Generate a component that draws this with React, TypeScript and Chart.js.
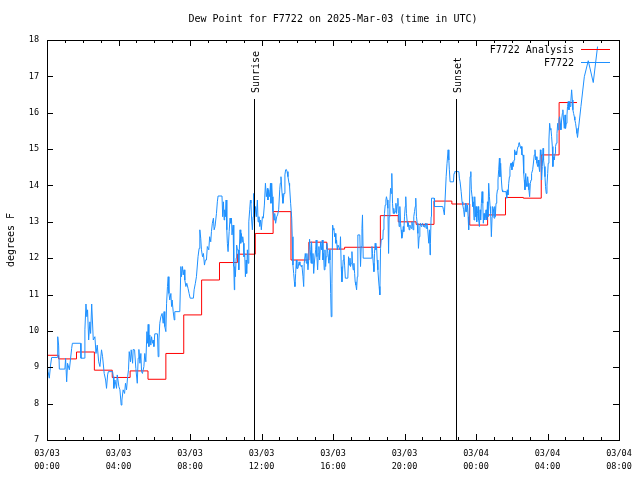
import React, { useEffect, useRef } from "react";
import { Chart, registerables } from "chart.js";

Chart.register(...registerables);

const TITLE = "Dew Point for F7722 on 2025-Mar-03 (time in UTC)";
const Y_TITLE = "degrees F";
const ANALYSIS_LABEL = "F7722 Analysis";
const OBS_LABEL = "F7722";
const SUNRISE_LABEL = "Sunrise";
const SUNSET_LABEL = "Sunset";

// x axis: hours since 03/03 00:00 UTC
const X_MIN = 0;
const X_MAX = 32;
const X_TICK_DATES = ["03/03", "03/03", "03/03", "03/03", "03/03", "03/03", "03/04", "03/04", "03/04"];
const X_TICK_TIMES = ["00:00", "04:00", "08:00", "12:00", "16:00", "20:00", "00:00", "04:00", "08:00"];
const Y_MIN = 7;
const Y_MAX = 18;

const SUNRISE_HOUR = 11.58;
const SUNSET_HOUR = 22.9;

// Analysis (red steps): start hour of each step and its value
const ANALYSIS_STARTS = [0, 0.65, 1.65, 2.65, 3.65, 4.65, 5.65, 6.65, 7.65, 8.65, 9.65, 10.65, 11.65, 12.65, 13.65,
  14.65, 15.65, 16.65, 17.65, 18.65, 19.65, 20.65, 21.65, 22.65, 23.65, 24.65, 25.65, 26.65, 27.65, 28.65];
const ANALYSIS_END = 29.65;
const ANALYSIS_VALUES = [9.33, 9.23, 9.42, 8.92, 8.72, 8.9, 8.67, 9.38, 10.44, 11.4, 11.88, 12.11, 12.68, 13.28, 11.95,
  12.44, 12.25, 12.3, 12.3, 13.17, 13.0, 12.93, 13.57, 13.49, 12.91, 13.19, 13.67, 13.65, 14.84, 16.28];

// Observations (blue): [hour, value]
const OBS: [number, number][] = [
  [0, 9.15], [0.06, 8.88], [0.13, 8.7], [0.2, 9.06], [0.26, 9.27], [0.58, 9.27], [0.6, 9.84], [0.65, 9.61], [0.69, 8.95], [1.0, 8.95],
  [1.04, 9.25], [1.1, 8.6], [1.15, 9.11], [1.25, 8.93], [1.38, 9.52], [1.42, 9.66], [1.88, 9.66], [1.9, 9.25], [2.09, 9.25], [2.12, 10.03],
  [2.18, 10.74], [2.23, 10.39], [2.27, 10.58], [2.33, 9.75], [2.4, 10.25], [2.44, 9.93], [2.5, 10.74], [2.59, 9.75], [2.68, 9.84], [2.74, 9.38],
  [2.81, 9.61], [2.89, 9.15], [2.96, 9.02], [3.05, 9.48], [3.11, 9.29], [3.2, 8.83], [3.28, 8.65], [3.33, 8.42], [3.39, 8.79], [3.43, 8.88],
  [3.67, 8.88], [3.71, 8.74], [3.74, 8.42], [3.8, 8.65], [3.89, 8.42], [3.93, 8.79], [4.02, 8.47], [4.08, 8.38], [4.15, 7.96], [4.19, 8.1],
  [4.26, 8.38], [4.34, 8.28], [4.39, 8.56], [4.45, 8.38], [4.51, 8.74], [4.56, 8.93], [4.6, 9.43], [4.67, 9.15], [4.71, 9.48], [4.79, 9.11],
  [4.82, 9.49], [4.9, 9.48], [4.97, 8.97], [5.05, 8.56], [5.1, 9.25], [5.14, 9.49], [5.2, 9.11],
  [5.25, 9.38], [5.29, 8.88], [5.34, 8.83], [5.42, 9.02], [5.47, 9.38], [5.53, 9.15], [5.59, 9.98], [5.62, 9.66], [5.66, 10.18], [5.7, 9.57],
  [5.75, 9.89], [5.81, 9.61], [5.85, 9.84], [5.9, 9.66], [5.94, 9.75], [5.98, 9.57], [6.03, 9.92], [6.18, 9.92], [6.22, 9.29], [6.26, 9.75],
  [6.31, 10.21], [6.37, 10.39], [6.44, 10.48], [6.5, 10.21], [6.55, 10.53], [6.59, 10.12], [6.65, 9.98], [6.69, 10.76], [6.74, 11.22], [6.78, 11.49],
  [6.82, 11.03], [6.87, 10.85], [6.93, 11.03], [6.97, 10.67], [7.0, 10.85], [7.06, 10.53], [7.12, 10.3], [7.15, 10.53], [7.43, 10.53], [7.49, 11.77],
  [7.52, 11.49], [7.58, 11.77], [7.62, 11.54], [7.67, 11.68], [7.71, 11.4], [7.77, 11.22], [7.82, 11.31], [7.89, 11.17], [7.95, 11.03], [8.01, 10.9],
  [8.19, 10.9], [8.23, 11.13], [8.3, 11.31], [8.36, 11.49], [8.45, 12.04], [8.51, 12.27], [8.55, 12.78], [8.6, 12.55], [8.64, 12.23], [8.7, 12.04],
  [8.75, 12.13], [8.81, 11.81], [8.86, 11.95], [8.92, 11.95], [8.97, 12.32], [9.05, 12.23], [9.1, 12.59], [9.16, 12.45], [9.2, 12.73], [9.25, 12.96],
  [9.31, 13.1], [9.35, 12.78], [9.4, 12.87], [9.48, 13.23], [9.53, 13.55], [9.57, 13.71], [9.79, 13.71], [9.83, 13.14], [9.87, 13.55], [9.91, 13.05],
  [9.94, 13.33], [9.98, 13.14], [10.02, 13.6], [10.06, 12.78], [10.09, 12.41], [10.13, 12.18], [10.19, 12.73], [10.24, 13.1], [10.28, 12.96], [10.32, 13.1],
  [10.35, 12.64], [10.41, 12.91], [10.45, 11.77], [10.48, 11.13],
  [10.5, 11.77], [10.54, 11.49], [10.58, 12.0], [10.61, 12.36], [10.65, 12.23], [10.69, 12.23], [10.73, 11.68], [10.76, 12.23], [10.8, 12.78], [10.84, 12.41],
  [10.87, 12.68], [10.91, 12.45], [10.95, 12.59], [10.99, 12.41], [11.02, 12.04], [11.06, 12.13], [11.1, 11.49], [11.14, 11.95], [11.17, 11.58], [11.21, 12.23],
  [11.25, 11.86], [11.28, 12.5], [11.3, 13.0], [11.34, 13.33], [11.38, 13.6], [11.41, 13.51], [11.45, 13.05], [11.49, 12.78], [11.53, 13.14], [11.56, 13.78],
  [11.6, 13.05], [11.66, 13.42], [11.71, 13.14], [11.77, 13.6], [11.81, 13.0], [11.86, 13.14], [11.9, 12.87], [11.95, 13.05], [11.99, 12.78], [12.05, 13.14],
  [12.1, 13.1], [12.16, 13.46], [12.22, 14.06], [12.27, 13.69], [12.33, 13.92], [12.36, 13.6], [12.4, 13.88], [12.46, 13.69], [12.5, 14.06], [12.53, 13.51],
  [12.57, 14.06], [12.61, 13.69], [12.64, 13.28], [12.7, 13.05], [12.74, 13.23], [12.79, 12.96], [12.85, 13.14], [12.9, 13.19], [12.96, 13.33], [13.02, 13.88],
  [13.05, 14.06], [13.09, 14.24], [13.15, 13.78], [13.2, 13.51], [13.26, 13.78], [13.31, 14.29], [13.35, 14.43], [13.39, 14.44], [13.43, 14.38], [13.48, 14.24],
  [13.54, 14.06], [13.57, 13.97], [13.63, 13.51], [13.69, 13.1], [13.72, 12.59], [13.76, 11.81], [13.8, 11.58], [13.84, 11.35], [13.87, 11.22], [13.91, 11.58],
  [13.95, 11.95], [13.98, 11.72], [14.04, 11.72], [14.1, 11.9], [14.15, 11.81], [14.21, 11.77], [14.26, 11.81], [14.32, 11.49], [14.36, 11.22], [14.39, 11.86],
  [14.45, 12.13], [14.51, 11.86], [14.54, 12.13], [14.6, 11.68], [14.64, 11.95], [14.69, 12.52], [14.73, 12.23], [14.77, 11.86], [14.8, 12.45], [14.84, 11.86],
  [14.88, 12.13], [14.92, 11.58], [14.97, 11.95], [15.03, 12.23], [15.06, 12.5], [15.1, 12.04], [15.14, 11.68], [15.18, 12.13], [15.21, 12.32], [15.25, 11.95],
  [15.31, 12.45], [15.36, 12.23], [15.4, 12.5], [15.44, 11.95], [15.47, 12.13], [15.51, 11.68], [15.55, 12.23], [15.59, 11.77], [15.62, 12.04], [15.66, 12.41],
  [15.72, 12.13], [15.77, 11.86], [15.81, 12.23],
  [15.83, 11.95], [15.87, 11.03], [15.9, 10.39], [15.94, 11.31], [15.98, 12.91], [16.02, 12.78], [16.05, 12.82], [16.09, 12.59], [16.13, 12.68], [16.16, 12.41],
  [16.2, 12.5], [16.24, 12.23], [16.28, 12.36], [16.39, 12.23], [16.42, 12.59], [16.46, 11.77], [16.5, 11.35], [16.54, 11.68], [16.57, 11.95], [16.61, 12.09],
  [16.65, 11.81], [16.69, 11.45], [16.83, 11.45], [16.87, 12.04], [16.91, 11.81], [16.95, 12.0], [16.98, 11.77], [17.02, 11.86], [17.06, 12.18], [17.09, 11.86],
  [17.13, 11.68], [17.17, 11.86], [17.21, 11.58], [17.24, 11.35], [17.28, 11.26], [17.32, 11.13], [17.36, 11.49], [17.39, 12.64], [17.5, 12.64], [17.54, 11.77],
  [17.58, 12.32], [17.62, 12.82], [17.65, 13.19], [17.69, 12.0], [18.14, 12.0], [18.18, 12.32], [18.21, 12.13], [18.25, 11.86], [18.29, 11.63], [18.32, 12.13],
  [18.36, 12.41], [18.4, 12.23], [18.44, 12.32], [18.47, 11.95], [18.51, 11.68], [18.55, 11.4], [18.58, 11.22], [18.62, 10.99], [18.66, 12.27], [18.7, 12.52],
  [18.79, 12.52], [18.81, 12.78], [18.85, 13.05], [18.88, 13.23], [18.92, 13.46], [18.96, 13.6], [18.99, 13.69], [19.03, 13.6], [19.07, 13.37], [19.11, 12.13],
  [19.14, 13.14], [19.18, 13.51], [19.22, 13.92], [19.26, 13.78], [19.29, 14.33], [19.33, 13.51], [19.37, 13.23], [19.4, 13.37], [19.44, 13.23], [19.48, 13.28],
  [19.52, 13.51], [19.55, 13.23], [19.59, 13.46], [19.63, 13.65], [19.66, 13.23], [19.7, 12.87], [19.74, 13.42], [19.78, 12.96], [19.81, 12.78], [19.85, 12.55],
  [19.89, 12.64], [19.93, 12.87], [19.96, 12.73], [20.0, 13.14], [20.04, 13.42], [20.07, 13.69], [20.11, 13.23], [20.15, 13.0], [20.19, 12.87], [20.22, 12.96],
  [20.26, 12.78], [20.3, 12.91], [20.34, 12.87], [20.37, 12.82], [20.41, 13.0], [20.45, 12.96], [20.48, 12.78], [20.52, 13.14], [20.56, 13.28], [20.6, 13.42],
  [20.63, 13.65], [20.67, 13.14], [20.71, 12.96], [20.75, 12.68], [20.78, 12.27], [20.82, 12.59], [20.86, 12.87], [20.89, 12.96], [20.93, 12.87], [20.97, 12.91],
  [21.01, 12.96], [21.04, 12.91], [21.08, 12.87], [21.12, 12.85],
  [21.17, 12.96], [21.21, 12.82], [21.25, 12.96], [21.3, 12.78], [21.36, 12.41], [21.4, 12.78], [21.43, 12.09], [21.45, 12.41], [21.49, 13.14], [21.51, 13.65],
  [21.66, 13.65], [21.68, 13.42], [22.14, 13.42], [22.18, 13.33], [22.23, 13.19], [22.27, 13.6], [22.33, 14.24], [22.38, 14.61], [22.44, 14.98], [22.48, 14.7],
  [22.51, 14.43], [22.55, 14.1], [22.74, 14.1], [22.77, 14.33], [22.81, 14.38], [23.04, 14.38], [23.07, 14.2], [23.11, 14.1], [23.17, 13.83], [23.22, 13.55],
  [23.26, 13.46], [23.31, 13.33], [23.35, 13.14], [23.41, 13.51], [23.44, 13.28], [23.48, 13.28], [23.52, 13.46], [23.56, 13.14], [23.59, 12.78], [23.63, 13.42],
  [23.67, 14.24], [23.71, 14.38], [23.74, 13.88], [23.78, 13.69], [23.82, 13.42], [23.85, 13.55], [23.89, 13.05], [23.93, 13.69], [23.97, 13.14], [24.0, 13.42],
  [24.04, 13.0], [24.08, 13.23], [24.12, 13.42], [24.15, 13.05], [24.19, 12.87], [24.23, 13.33], [24.26, 13.05], [24.3, 13.51], [24.34, 13.83], [24.38, 13.51],
  [24.41, 12.96], [24.45, 13.23], [24.49, 13.05], [24.52, 13.1], [24.56, 13.33], [24.6, 13.05], [24.64, 13.55], [24.67, 13.14], [24.71, 14.06], [24.75, 13.69],
  [24.79, 13.42], [24.82, 13.23], [24.86, 12.59], [24.9, 13.14], [24.93, 13.42], [24.97, 13.37], [25.01, 13.1], [25.05, 13.42], [25.08, 13.14], [25.12, 13.51],
  [25.16, 13.74], [25.2, 13.88], [25.23, 14.15], [25.27, 14.43], [25.31, 14.75], [25.34, 14.24], [25.38, 14.61], [25.42, 14.15], [25.46, 13.88], [25.49, 13.83],
  [25.68, 13.83], [25.72, 13.65], [25.75, 13.88], [25.79, 13.74], [25.83, 14.06], [25.87, 14.24], [25.9, 14.47], [25.94, 14.61], [25.98, 14.61], [26.01, 14.43],
  [26.05, 14.65], [26.09, 14.52], [26.13, 14.7], [26.16, 14.98], [26.2, 14.84], [26.24, 14.93], [26.27, 14.84], [26.31, 14.98], [26.35, 15.07], [26.39, 15.16],
  [26.42, 15.18], [26.46, 15.18], [26.5, 15.02], [26.54, 15.07], [26.57, 14.84], [26.63, 14.84], [26.67, 14.33], [26.7, 14.15], [26.74, 13.88], [26.78, 14.33],
  [26.82, 14.06], [26.85, 13.97], [26.89, 14.24], [26.93, 14.06], [26.96, 13.88], [27.0, 13.69], [27.04, 14.06], [27.08, 14.15], [27.11, 14.33], [27.17, 14.43],
  [27.23, 14.7], [27.26, 14.84], [27.3, 14.98], [27.34, 14.7], [27.37, 14.79], [27.41, 14.61], [27.45, 14.52], [27.49, 14.7], [27.52, 14.52], [27.56, 14.38],
  [27.6, 14.98], [27.63, 14.84], [27.67, 14.15], [27.71, 14.52], [27.75, 15.02], [27.78, 14.7], [27.82, 14.52], [27.86, 14.24], [27.89, 13.97], [27.93, 13.78],
  [27.97, 14.01], [28.01, 14.33], [28.04, 14.61], [28.08, 15.25], [28.12, 15.71], [28.16, 15.53], [28.19, 15.57], [28.23, 15.34], [28.27, 15.07], [28.3, 14.52],
  [28.34, 14.79], [28.38, 14.7], [28.42, 14.88], [28.45, 15.07], [28.49, 15.16], [28.53, 15.43], [28.57, 15.71], [28.6, 15.53], [28.64, 15.8], [28.68, 15.89],
  [28.72, 15.71], [28.75, 15.53], [28.79, 15.8], [28.83, 15.98], [28.86, 16.08], [28.9, 15.8], [28.94, 15.57], [28.98, 15.94], [29.01, 15.57], [29.05, 15.71],
  [29.09, 15.94], [29.12, 16.17], [29.16, 16.31], [29.2, 16.08], [29.24, 16.31], [29.27, 16.17], [29.31, 16.35], [29.35, 16.63], [29.39, 16.35], [29.42, 16.08],
  [29.46, 15.98], [29.5, 15.89], [29.53, 15.8], [29.57, 15.71], [29.61, 15.57], [29.65, 15.43], [29.68, 15.32], [29.87, 16.17], [30.06, 16.99], [30.28, 17.43],
  [30.56, 16.83], [30.8, 17.82],
];

const RED = "#ff0000";
const BLUE = "#1e90ff";
const MONO = '"DejaVu Sans Mono", monospace';

const framePlugin = {
  id: "gnuplotFrame",
  afterDatasetsDraw(chart: any) {
    const { ctx, chartArea, scales } = chart;
    const { left, right, top, bottom } = chartArea;
    const xs = scales.x;
    const ys = scales.y;
    ctx.save();
    ctx.strokeStyle = "#000";
    ctx.lineWidth = 1;
    // border
    ctx.strokeRect(Math.round(left) + 0.5, Math.round(top) + 0.5, Math.round(right - left), Math.round(bottom - top));
    ctx.beginPath();
    // y ticks (left & right)
    for (let v = Y_MIN; v <= Y_MAX; v++) {
      const py = Math.round(ys.getPixelForValue(v)) + 0.5;
      ctx.moveTo(left, py); ctx.lineTo(left + 6, py);
      ctx.moveTo(right, py); ctx.lineTo(right - 6, py);
    }
    // x ticks (bottom & top), major every 4h, minor hourly
    for (let h = X_MIN; h <= X_MAX; h++) {
      const px = Math.round(xs.getPixelForValue(h)) + 0.5;
      const len = h % 4 === 0 ? 6 : 3;
      ctx.moveTo(px, bottom); ctx.lineTo(px, bottom - len);
      ctx.moveTo(px, top); ctx.lineTo(px, top + len);
    }
    // sunrise / sunset lines
    const sr = Math.round(xs.getPixelForValue(SUNRISE_HOUR)) + 0.5;
    const ss = Math.round(xs.getPixelForValue(SUNSET_HOUR)) + 0.5;
    ctx.moveTo(sr, 99); ctx.lineTo(sr, bottom);
    ctx.moveTo(ss, 99); ctx.lineTo(ss, bottom);
    ctx.stroke();

    ctx.fillStyle = "#000";
    ctx.font = `10px ${MONO}`;
    // rotated sun labels
    for (const [px, label] of [[sr, SUNRISE_LABEL], [ss, SUNSET_LABEL]] as [number, string][]) {
      ctx.save();
      ctx.translate(px + 2, 93);
      ctx.rotate(-Math.PI / 2);
      ctx.textAlign = "left";
      ctx.textBaseline = "middle";
      ctx.fillText(label, 0, 0);
      ctx.restore();
    }
    // title
    ctx.textAlign = "center";
    ctx.textBaseline = "middle";
    ctx.fillText(TITLE, (left + right) / 2, 19);
    // y title
    ctx.save();
    ctx.translate(11, (top + bottom) / 2);
    ctx.rotate(-Math.PI / 2);
    ctx.fillText(Y_TITLE, 0, 0);
    ctx.restore();
    // legend
    ctx.textAlign = "right";
    ctx.fillText(ANALYSIS_LABEL, 574, 50);
    ctx.fillText(OBS_LABEL, 574, 63);
    ctx.beginPath();
    ctx.strokeStyle = RED;
    ctx.moveTo(581, 49.5); ctx.lineTo(610, 49.5);
    ctx.stroke();
    ctx.beginPath();
    ctx.strokeStyle = BLUE;
    ctx.moveTo(581, 62.5); ctx.lineTo(610, 62.5);
    ctx.stroke();
    ctx.restore();
  },
};

export default function App() {
  const ref = useRef<HTMLCanvasElement | null>(null);
  useEffect(() => {
    if (!ref.current) return;
    const analysisData = ANALYSIS_STARTS.map((t, i) => ({ x: t, y: ANALYSIS_VALUES[i] }));
    analysisData.push({ x: ANALYSIS_END, y: ANALYSIS_VALUES[ANALYSIS_VALUES.length - 1] });
    const obsData = OBS.map(([t, v]) => ({ x: t, y: v }));
    const tickFont = { family: MONO, size: 8.5, lineHeight: "12.5px" };
    const chart = new Chart(ref.current, {
      type: "line",
      data: {
        datasets: [
          {
            label: OBS_LABEL,
            data: obsData,
            borderColor: BLUE,
            borderWidth: 1,
            pointRadius: 0,
            tension: 0,
            fill: false,
          },
          {
            label: ANALYSIS_LABEL,
            data: analysisData,
            borderColor: RED,
            borderWidth: 1,
            pointRadius: 0,
            stepped: true,
            fill: false,
          },
        ],
      },
      options: {
        responsive: false,
        animation: false,
        layout: { padding: { left: 0, right: 21, top: 40, bottom: 0 } },
        plugins: {
          legend: { display: false },
          tooltip: { enabled: false },
          title: { display: false },
        },
        scales: {
          x: {
            type: "linear",
            min: X_MIN,
            max: X_MAX,
            grid: { display: false, drawTicks: false },
            border: { display: false },
            ticks: {
              stepSize: 4,
              autoSkip: false,
              maxRotation: 0,
              padding: 8,
              color: "#000",
              font: tickFont,
              callback: (v: any) => {
                const i = Math.round(Number(v) / 4);
                return [X_TICK_DATES[i], X_TICK_TIMES[i]];
              },
            },
            afterFit: (s: any) => { s.height = 40; },
          },
          y: {
            min: Y_MIN,
            max: Y_MAX,
            grid: { display: false, drawTicks: false },
            border: { display: false },
            ticks: {
              stepSize: 1,
              padding: 8,
              color: "#000",
              font: tickFont,
              callback: (v: any) => String(v),
            },
            afterFit: (s: any) => { s.width = 47; },
          },
        },
      },
      plugins: [framePlugin],
    });
    return () => chart.destroy();
  }, []);
  return (
    <div style={{ position: "fixed", left: 0, top: 0, width: 640, height: 480, background: "#fff" }}>
      <canvas ref={ref} width={640} height={480} style={{ display: "block" }} />
    </div>
  );
}
